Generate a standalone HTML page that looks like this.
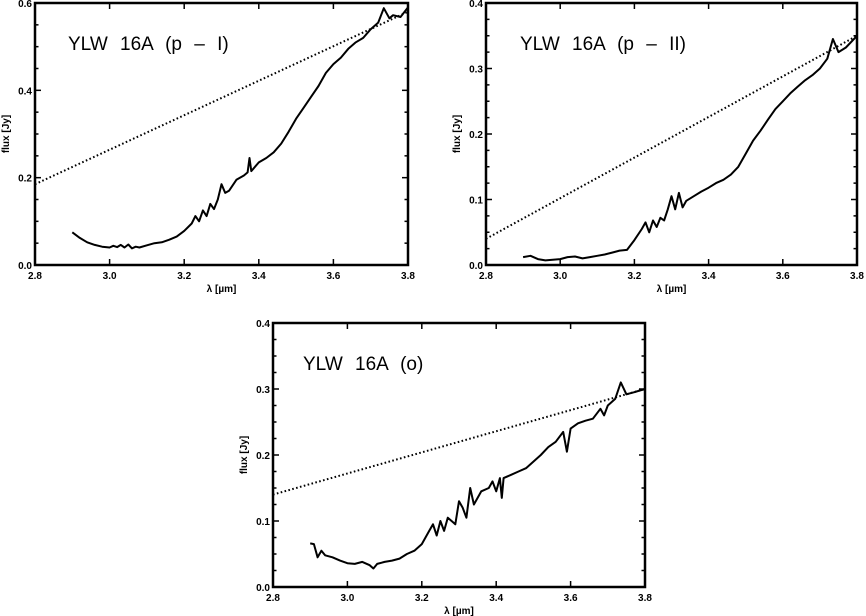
<!DOCTYPE html>
<html><head><meta charset="utf-8"><style>
html,body{margin:0;padding:0;background:#fff;}
svg{display:block;font-family:"Liberation Sans",sans-serif;}
.tk{font-size:10px;font-weight:bold;}
.ttl{font-size:19px;word-spacing:7px;font-weight:300;}
</style></head><body>
<svg id="fig" width="866" height="616" viewBox="0 0 866 616"></svg>
<script>
const xTicks=[2.8,3.0,3.2,3.4,3.6,3.8];
const xTickLabels=["2.8","3.0","3.2","3.4","3.6","3.8"];
const p1Wave=[2.90,2.92,2.94,2.96,2.98,3.00,3.01,3.02,3.03,3.04,3.05,3.06,3.07,3.08,3.10,3.12,3.14,3.16,3.18,3.20,3.22,3.23,3.24,3.25,3.26,3.27,3.28,3.29,3.30,3.31,3.32,3.34,3.36,3.37,3.375,3.38,3.40,3.42,3.44,3.46,3.48,3.50,3.52,3.54,3.56,3.58,3.60,3.62,3.64,3.66,3.68,3.70,3.72,3.735,3.75,3.76,3.78,3.80];
const p1Flux=[0.075,0.062,0.052,0.046,0.042,0.040,0.044,0.041,0.046,0.040,0.047,0.038,0.042,0.040,0.045,0.050,0.052,0.058,0.065,0.078,0.095,0.112,0.100,0.125,0.112,0.140,0.128,0.150,0.185,0.165,0.170,0.195,0.205,0.212,0.245,0.215,0.235,0.245,0.258,0.278,0.305,0.335,0.360,0.385,0.410,0.440,0.460,0.475,0.495,0.510,0.520,0.540,0.555,0.588,0.565,0.572,0.568,0.590];
const p1Cont=[0.185,0.580];
const p2Wave=[2.90,2.92,2.94,2.96,2.98,3.00,3.02,3.04,3.06,3.08,3.10,3.12,3.14,3.16,3.18,3.20,3.22,3.23,3.24,3.25,3.26,3.27,3.28,3.29,3.30,3.31,3.32,3.33,3.34,3.36,3.38,3.40,3.42,3.44,3.46,3.48,3.50,3.52,3.54,3.56,3.58,3.60,3.62,3.64,3.66,3.68,3.70,3.72,3.735,3.75,3.77,3.80];
const p2Flux=[0.012,0.014,0.009,0.007,0.008,0.009,0.012,0.013,0.010,0.012,0.014,0.016,0.019,0.022,0.023,0.038,0.055,0.065,0.050,0.068,0.058,0.072,0.068,0.085,0.105,0.085,0.110,0.088,0.098,0.105,0.112,0.118,0.125,0.130,0.138,0.150,0.170,0.190,0.205,0.222,0.238,0.250,0.262,0.272,0.282,0.290,0.300,0.315,0.345,0.325,0.332,0.350];
const p2Cont=[0.040,0.350];
const p3Wave=[2.90,2.91,2.92,2.93,2.94,2.96,2.98,3.00,3.02,3.04,3.06,3.07,3.08,3.10,3.12,3.14,3.16,3.18,3.20,3.22,3.23,3.24,3.25,3.26,3.27,3.28,3.29,3.30,3.31,3.32,3.33,3.34,3.36,3.38,3.39,3.40,3.41,3.415,3.42,3.44,3.46,3.48,3.50,3.52,3.54,3.56,3.58,3.59,3.60,3.62,3.64,3.66,3.68,3.69,3.70,3.72,3.735,3.75,3.77,3.80];
const p3Flux=[0.066,0.065,0.045,0.055,0.048,0.045,0.040,0.036,0.035,0.038,0.033,0.028,0.035,0.038,0.040,0.043,0.050,0.055,0.065,0.085,0.095,0.078,0.100,0.085,0.105,0.100,0.095,0.130,0.120,0.105,0.150,0.125,0.145,0.150,0.160,0.145,0.165,0.135,0.165,0.170,0.175,0.180,0.190,0.200,0.212,0.220,0.235,0.205,0.240,0.248,0.252,0.255,0.270,0.260,0.275,0.285,0.310,0.292,0.295,0.300];
const p3Cont=[0.140,0.300];

const NS="http://www.w3.org/2000/svg";
const svg=document.getElementById('fig');
function mk(tag,attrs,parent){const e=document.createElementNS(NS,tag);for(const k in attrs)e.setAttribute(k,attrs[k]);(parent||svg).appendChild(e);return e;}

function panel(id,L,R,T,B,ymax,major,minor,yfmt,title,tx,ty,wave,flux,cont){
  const g=mk('g',{});
  
  
  const xs=v=>L+(v-2.8)/(1.0)*(R-L);
  const ys=v=>B-(v/ymax)*(B-T);
  const nMin=Math.round(ymax/minor);
  for(let i=0;i<=nMin;i++){
    const v=i*minor, y=ys(v);
    const isMaj=Math.abs(v/major-Math.round(v/major))<1e-6;
    const len=isMaj?6:3.5;
    mk('line',{x1:L,x2:L+len,y1:y,y2:y,stroke:'#000','stroke-width':1.5},g);
    mk('line',{x1:R,x2:R-len,y1:y,y2:y,stroke:'#000','stroke-width':1.5},g);
    if(isMaj){
      const t=mk('text',{x:L-3,y:y+4,'text-anchor':'end',class:'tk'},g);
      t.textContent=v.toFixed(yfmt);
      
      
    }
  }
  xTicks.forEach((v,i)=>{
    const x=xs(v);
    mk('line',{x1:x,x2:x,y1:B,y2:B-6,stroke:'#000','stroke-width':1.5},g);
    mk('line',{x1:x,x2:x,y1:T,y2:T+6,stroke:'#000','stroke-width':1.5},g);
    const t=mk('text',{x:x,y:B+14,'text-anchor':'middle',class:'tk'},g);
    t.textContent=xTickLabels[i];
    
    
  });
  const fr=mk('rect',{x:L,y:T,width:R-L,height:B-T,fill:'none',stroke:'#000','stroke-width':2.5},g);
  
  
  const xl=mk('text',{x:(L+R)/2,y:B+27,'text-anchor':'middle',class:'tk'},g);
  xl.textContent='λ [µm]';
  
  
  const yl=mk('text',{x:0,y:0,'text-anchor':'middle',class:'tk',transform:`translate(${L-26},${(T+B)/2}) rotate(-90)`},g);
  yl.textContent='flux [Jy]';
  
  
  const tt=mk('text',{x:tx,y:ty,class:'ttl'},g);
  tt.textContent=title;
  
  
  const cl=mk('line',{x1:xs(2.8),y1:ys(cont[0]),x2:xs(3.8),y2:ys(cont[1]),stroke:'#000','stroke-width':2,'stroke-dasharray':'1.6 2.4'},g);
  
  
  const d=wave.map((w,i)=>(i?'L':'M')+xs(w).toFixed(1)+','+ys(flux[i]).toFixed(1)).join(' ');
  const sp=mk('path',{d:d,fill:'none',stroke:'#000','stroke-width':2,'stroke-linejoin':'round'},g);
  
  
}
panel('panel-p-I',35,408,3,265,0.6,0.2,0.05,1,'YLW 16A (p – I)',68,50,p1Wave,p1Flux,p1Cont);
panel('panel-p-II',486,857,3,265,0.4,0.1,0.025,1,'YLW 16A (p – II)',520,50,p2Wave,p2Flux,p2Cont);
panel('panel-o',273,645,323,587,0.4,0.1,0.025,1,'YLW 16A (o)',303,370,p3Wave,p3Flux,p3Cont);
</script>
</body></html>
